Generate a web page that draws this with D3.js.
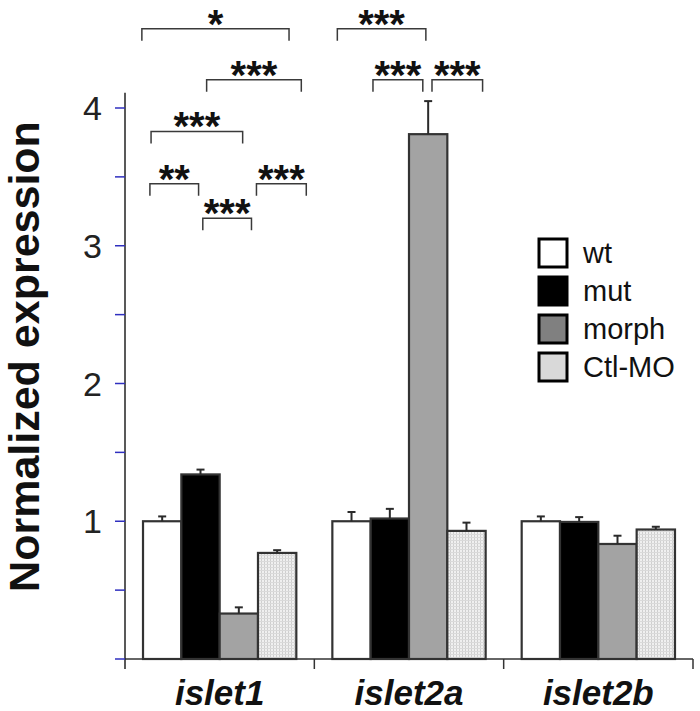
<!DOCTYPE html>
<html>
<head>
<meta charset="utf-8">
<script src="https://cdn.jsdelivr.net/npm/d3@7"></script>
<style>
  html, body { margin: 0; padding: 0; background: #fff; }
  svg { display: block; font-family: "Liberation Sans", Arial, sans-serif; }
</style>
</head>
<body>
<svg id="chart" width="700" height="711"></svg>
<script>
// ---- data ----
const genes = ["islet1", "islet2a", "islet2b"];
const series = ["wt", "mut", "morph", "Ctl-MO"];
const wtValues = [1.00, 1.00, 1.00];
const wtErrors = [0.035, 0.067, 0.035];
const mutValues = [1.34, 1.02, 0.995];
const mutErrors = [0.035, 0.07, 0.035];
const morphValues = [0.33, 3.81, 0.835];
const morphErrors = [0.045, 0.24, 0.06];
const ctlValues = [0.77, 0.93, 0.94];
const ctlErrors = [0.02, 0.06, 0.02];
const yTicks = [1, 2, 3, 4];
const yMinorTicks = [0, 0.5, 1.5, 2.5, 3.5];
// significance brackets: gene, start/end in bar units, level (value units), label
const bracketGenes = ["islet1", "islet1", "islet1", "islet1", "islet1", "islet1", "islet2a", "islet2a", "islet2a"];
const bracketFrom  = [-0.03, 1.66, 0.21, 0.18, 2.96, 1.56, 0.13, 1.06, 2.60];
const bracketTo    = [3.81, 4.13, 2.60, 1.45, 4.26, 2.83, 2.44, 2.36, 3.92];
const bracketLevel = [4.575, 4.205, 3.83, 3.45, 3.45, 3.20, 4.575, 4.205, 4.205];
const bracketLabel = ["*", "***", "***", "**", "***", "***", "***", "***", "***"];

const valuesBySeries = [wtValues, mutValues, morphValues, ctlValues];
const errorsBySeries = [wtErrors, mutErrors, morphErrors, ctlErrors];
const barFill = ["#ffffff", "#000000", "#a3a3a3", "url(#dots)"];
const legendFill = ["#ffffff", "#000000", "#808080", "#d9d9d9"];

const rows = [];
genes.forEach((g, gi) => series.forEach((s, si) => rows.push({
  gene: g, series: s, si, value: valuesBySeries[si][gi], err: errorsBySeries[si][gi]
})));

// ---- layout ----
const svg = d3.select("#chart");
const defs = svg.append("defs");
const pat = defs.append("pattern").attr("id", "dots")
  .attr("patternUnits", "userSpaceOnUse").attr("width", 3).attr("height", 3);
pat.append("rect").attr("width", 3).attr("height", 3).attr("fill", "#f0f0f0");
pat.append("rect").attr("width", 1).attr("height", 3).attr("fill", "#cfcfcf");
pat.append("rect").attr("width", 3).attr("height", 1).attr("fill", "#dadada");

const x0 = d3.scaleBand().domain(genes).range([125, 693]).paddingInner(0).paddingOuter(0);
const x1 = d3.scaleBand().domain(series).range([0, x0.bandwidth()]).paddingInner(0).paddingOuter(0.47);
const y = d3.scaleLinear().domain([0, 4]).range([659, 108]);
const barUnitX = (g, u) => x0(g) + x1(series[0]) + u * x1.step();

// bars
svg.append("g").selectAll("rect").data(rows).join("rect")
  .attr("x", d => x0(d.gene) + x1(d.series))
  .attr("y", d => y(d.value))
  .attr("width", x1.bandwidth())
  .attr("height", d => y(0) - y(d.value))
  .attr("fill", d => barFill[d.si])
  .attr("stroke", "#333").attr("stroke-width", 2.2);

// error bars (upper only)
const eb = svg.append("g").attr("stroke", "#2a2a2a").attr("stroke-width", 2);
eb.selectAll("line.v").data(rows).join("line").attr("class", "v")
  .attr("x1", d => x0(d.gene) + x1(d.series) + x1.bandwidth() / 2)
  .attr("x2", d => x0(d.gene) + x1(d.series) + x1.bandwidth() / 2)
  .attr("y1", d => y(d.value)).attr("y2", d => y(d.value + d.err));
eb.selectAll("line.c").data(rows).join("line").attr("class", "c")
  .attr("x1", d => x0(d.gene) + x1(d.series) + x1.bandwidth() / 2 - 4)
  .attr("x2", d => x0(d.gene) + x1(d.series) + x1.bandwidth() / 2 + 4)
  .attr("y1", d => y(d.value + d.err)).attr("y2", d => y(d.value + d.err));

// x axis
const xAxisG = svg.append("g");
xAxisG.append("line").attr("x1", x0.range()[0]).attr("x2", x0.range()[1])
  .attr("y1", y(0)).attr("y2", y(0)).attr("stroke", "#333").attr("stroke-width", 1.5);
xAxisG.selectAll("line.t").data(genes).join("line").attr("class", "t")
  .attr("x1", d => x0(d) + x0.bandwidth()).attr("x2", d => x0(d) + x0.bandwidth())
  .attr("y1", y(0)).attr("y2", y(0) + 10).attr("stroke", "#333").attr("stroke-width", 1.5);
xAxisG.selectAll("text").data(genes).join("text")
  .attr("x", d => x0(d) + x0.bandwidth() / 2).attr("y", 705)
  .attr("text-anchor", "middle").attr("font-size", 35).attr("font-weight", "bold")
  .attr("font-style", "italic").attr("fill", "#111").text(d => d);

// y axis
const yAxisG = svg.append("g");
yAxisG.append("line").attr("x1", 125).attr("x2", 125)
  .attr("y1", y(4.11)).attr("y2", y(0) + 10).attr("stroke", "#222").attr("stroke-width", 1.5);
yAxisG.selectAll("line.mj").data(yTicks.concat(yMinorTicks)).join("line").attr("class", "mj")
  .attr("x1", 115).attr("x2", 125).attr("y1", d => y(d)).attr("y2", d => y(d))
  .attr("stroke", "#2f2fbf").attr("stroke-width", 1.5);
yAxisG.selectAll("text").data(yTicks).join("text")
  .attr("x", 102).attr("y", d => y(d)).attr("dy", "0.36em")
  .attr("text-anchor", "end").attr("font-size", 34).attr("fill", "#222").text(d => d);
svg.append("text").attr("transform", `translate(39,${(113 + 600) / 2}) rotate(-90)`)
  .attr("text-anchor", "middle").attr("font-size", 43).attr("font-weight", "bold")
  .attr("fill", "#111").text("Normalized expression");

// brackets
const brackets = bracketGenes.map((g, i) => ({
  g, a: barUnitX(g, bracketFrom[i]), b: barUnitX(g, bracketTo[i]), lv: y(bracketLevel[i]), label: bracketLabel[i]
}));
const br = svg.append("g");
br.selectAll("path").data(brackets).join("path")
  .attr("d", d => `M${d.a},${d.lv + 12}V${d.lv}H${d.b}V${d.lv + 12}`)
  .attr("fill", "none").attr("stroke", "#3a3a3a").attr("stroke-width", 1.5);
br.selectAll("text").data(brackets).join("text")
  .attr("x", d => (d.a + d.b) / 2).attr("y", d => d.lv + 9)
  .attr("text-anchor", "middle").attr("font-size", 40).attr("font-weight", "bold")
  .attr("fill", "#111").text(d => d.label);

// legend
const lg = svg.append("g");
const lgItems = lg.selectAll("g").data(series).join("g")
  .attr("transform", (d, i) => `translate(539,${239 + i * 38})`);
lgItems.append("rect").attr("width", 28).attr("height", 28)
  .attr("fill", (d, i) => legendFill[i]).attr("stroke", "#000").attr("stroke-width", 3);
lgItems.append("text").attr("x", 44).attr("y", 14).attr("dy", "0.36em")
  .attr("font-size", 29).attr("fill", "#111").text(d => d);
</script>
</body>
</html>
